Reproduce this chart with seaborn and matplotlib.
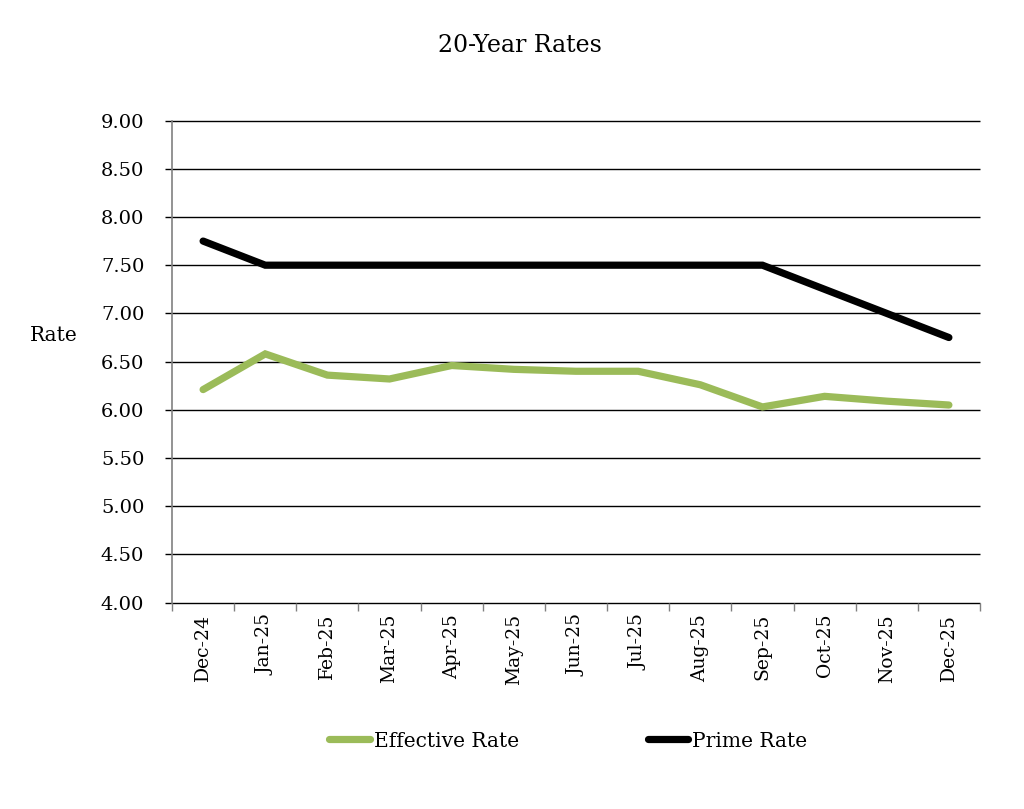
import matplotlib
matplotlib.use("Agg")
import matplotlib.pyplot as plt
import seaborn as sns
import pandas as pd
from matplotlib.lines import Line2D

months = ["Dec-24", "Jan-25", "Feb-25", "Mar-25", "Apr-25", "May-25", "Jun-25",
          "Jul-25", "Aug-25", "Sep-25", "Oct-25", "Nov-25", "Dec-25"]
effective_rate = [6.21, 6.58, 6.36, 6.32, 6.46, 6.42, 6.40, 6.40, 6.26, 6.03, 6.14, 6.09, 6.05]
prime_rate = [7.75, 7.50, 7.50, 7.50, 7.50, 7.50, 7.50, 7.50, 7.50, 7.50, 7.25, 7.00, 6.75]
y_ticks = [4.0, 4.5, 5.0, 5.5, 6.0, 6.5, 7.0, 7.5, 8.0, 8.5, 9.0]

sns.set_theme(style="white")
plt.rcParams['font.family'] = ['DejaVu Serif', 'Liberation Serif']
plt.rcParams['text.color'] = '#000000'
plt.rcParams['axes.labelcolor'] = '#000000'
plt.rcParams['xtick.labelcolor'] = '#000000'
plt.rcParams['ytick.labelcolor'] = '#000000'

df = pd.DataFrame({
    "Month": months * 2,
    "x": list(range(len(months))) * 2,
    "Rate": effective_rate + prime_rate,
    "Series": ["Effective Rate"] * len(months) + ["Prime Rate"] * len(months),
})

fig = plt.figure(figsize=(10.24, 8.09), dpi=100)
ax = fig.add_axes([0.168, 0.255, 0.789, 0.596])

sns.lineplot(data=df, x="x", y="Rate", hue="Series",
             palette={"Effective Rate": "#9BBB59", "Prime Rate": "#000000"},
             linewidth=5.2, ax=ax, legend=False, sort=False)
for ln in ax.get_lines():
    ln.set_solid_capstyle("round")
    ln.set_solid_joinstyle("miter")

xmin, xmax = -0.5, len(months) - 0.5
ax.set_xlim(xmin, xmax)
ax.set_ylim(4.0, 9.0)
ax.set_yticks(y_ticks)
ax.set_yticklabels([f"{v:.2f}" for v in y_ticks], fontsize=14, color="#000000")
ax.set_xticks(range(len(months)))
ax.set_xticklabels(months, rotation=90, fontsize=13.5, color="#000000")
ax.set_xticks([i - 0.5 for i in range(len(months) + 1)], minor=True)
ax.tick_params(axis="x", which="major", length=0, pad=8, bottom=False)
ax.tick_params(axis="x", which="minor", length=6, width=1, color="#808080",
               direction="out", bottom=True)
ax.tick_params(axis="y", which="major", length=0, left=False, pad=20)

# horizontal gridlines extending slightly left of the axis as tick marks
tick_ext = 7 / (0.789 * 1024) * (xmax - xmin)
ax.hlines(y_ticks, xmin - tick_ext, xmax, colors="#000000", linewidth=1.0,
          zorder=0.5, clip_on=False)

for s in ["top", "right", "bottom"]:
    ax.spines[s].set_visible(False)
ax.spines["left"].set_color("#808080")
ax.spines["left"].set_linewidth(1.2)
ax.set_xlabel("")
ax.set_ylabel("Rate", rotation=0, fontsize=14.5, va="center", ha="center",
              color="#000000")
ax.yaxis.set_label_coords(-0.146, 0.555)

fig.text(0.508, 0.944, "20-Year Rates", ha="center", va="center", fontsize=17,
         color="#000000")

handles = [Line2D([0], [0], color="#9BBB59", lw=5.2, solid_capstyle="round"),
           Line2D([0], [0], color="#000000", lw=5.2, solid_capstyle="round")]
leg = fig.legend(handles, ["Effective Rate", "Prime Rate"], loc="center",
                 bbox_to_anchor=(0.555, 0.084), ncol=2, frameon=False, fontsize=14.5,
                 handlelength=2.0, handletextpad=0.2, columnspacing=6.4)
for t in leg.get_texts():
    t.set_color("#000000")

fig.savefig("out.png", dpi=100)
